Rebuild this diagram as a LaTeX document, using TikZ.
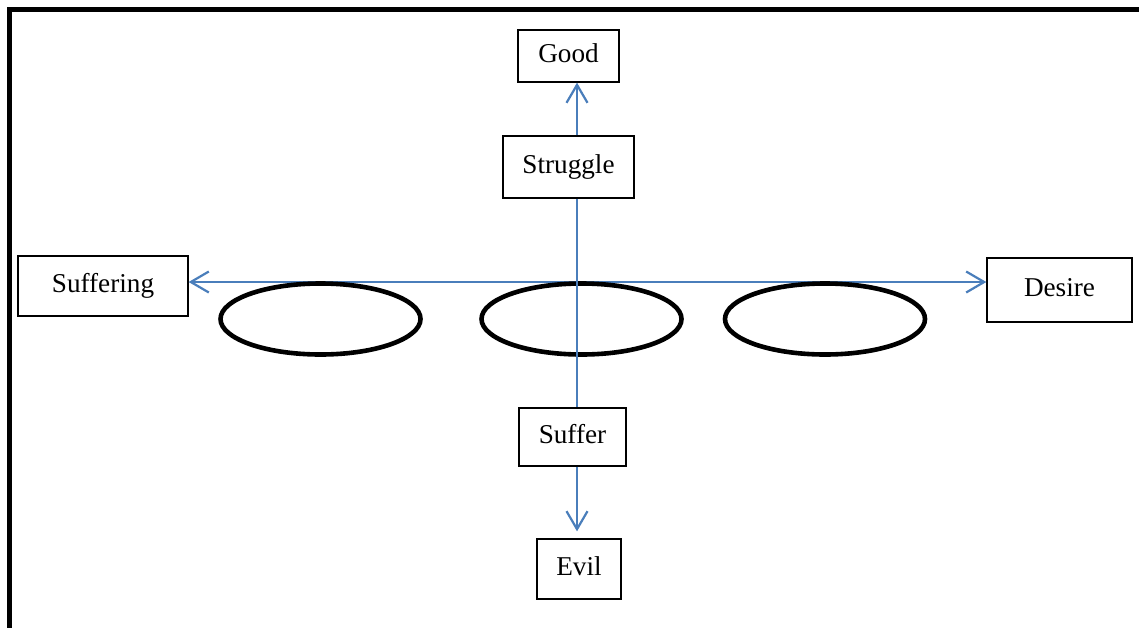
\documentclass[tikz,border=0pt]{standalone}
\usepackage{fontspec}
\setmainfont{Liberation Serif}
\usetikzlibrary{arrows.meta,shapes.geometric}
\definecolor{conn}{RGB}{74,126,187}
\begin{document}
\begin{tikzpicture}[x=0.5pt,y=-0.5pt,
  box/.style={draw=black,line width=0.65pt,rectangle,inner sep=0pt,text height=9pt,text depth=2.8pt,font=\fontsize{13.6}{15}\selectfont},
  ring/.style={draw=black,line width=2.3pt,ellipse,inner sep=0pt,minimum width=100pt,minimum height=35.5pt},
  link/.style={draw=conn,line width=1.1pt},
  tip/.tip={Straight Barb[length=9pt,width=10.5pt,line width=1.1pt]},
  arr/.style={link,-tip},
  frame/.style={draw=black,line width=2.6pt}]
\useasboundingbox (0,0) rectangle (1139,627);
\draw[frame] (9.5,640) -- (9.5,9.5) -- (1150,9.5);
\coordinate (V) at (577,0);
\coordinate (H) at (0,282);
\node[box,minimum width=50.5pt,minimum height=26pt] (good) at (568.5,56) {Good};
\node[box,minimum width=65.5pt,minimum height=31pt] (struggle) at (568.5,167) {Struggle};
\node[box,minimum width=85pt,minimum height=30pt] (suffering) at (103,286) {Suffering};
\node[box,minimum width=72.5pt,minimum height=32pt] (desire) at (1059.5,290) {Desire};
\node[box,minimum width=53.5pt,minimum height=29pt] (suffer) at (572.5,437) {Suffer};
\node[box,minimum width=42pt,minimum height=30pt] (evil) at (579,569) {Evil};
\draw[link,tip-tip] (suffering.east |- H) -- (desire.west |- H);
\node[ring] (e1) at (320.5,319) {};
\node[ring] (e2) at (581.5,319) {};
\node[ring] (e3) at (825,319) {};
\draw[arr] (struggle.north -| V) -- (good.south -| V);
\draw[link] (struggle.south -| V) -- (suffer.north -| V);
\draw[arr] (suffer.south -| V) -- ([yshift=3.5pt]evil.north -| V);
\end{tikzpicture}
\end{document}
